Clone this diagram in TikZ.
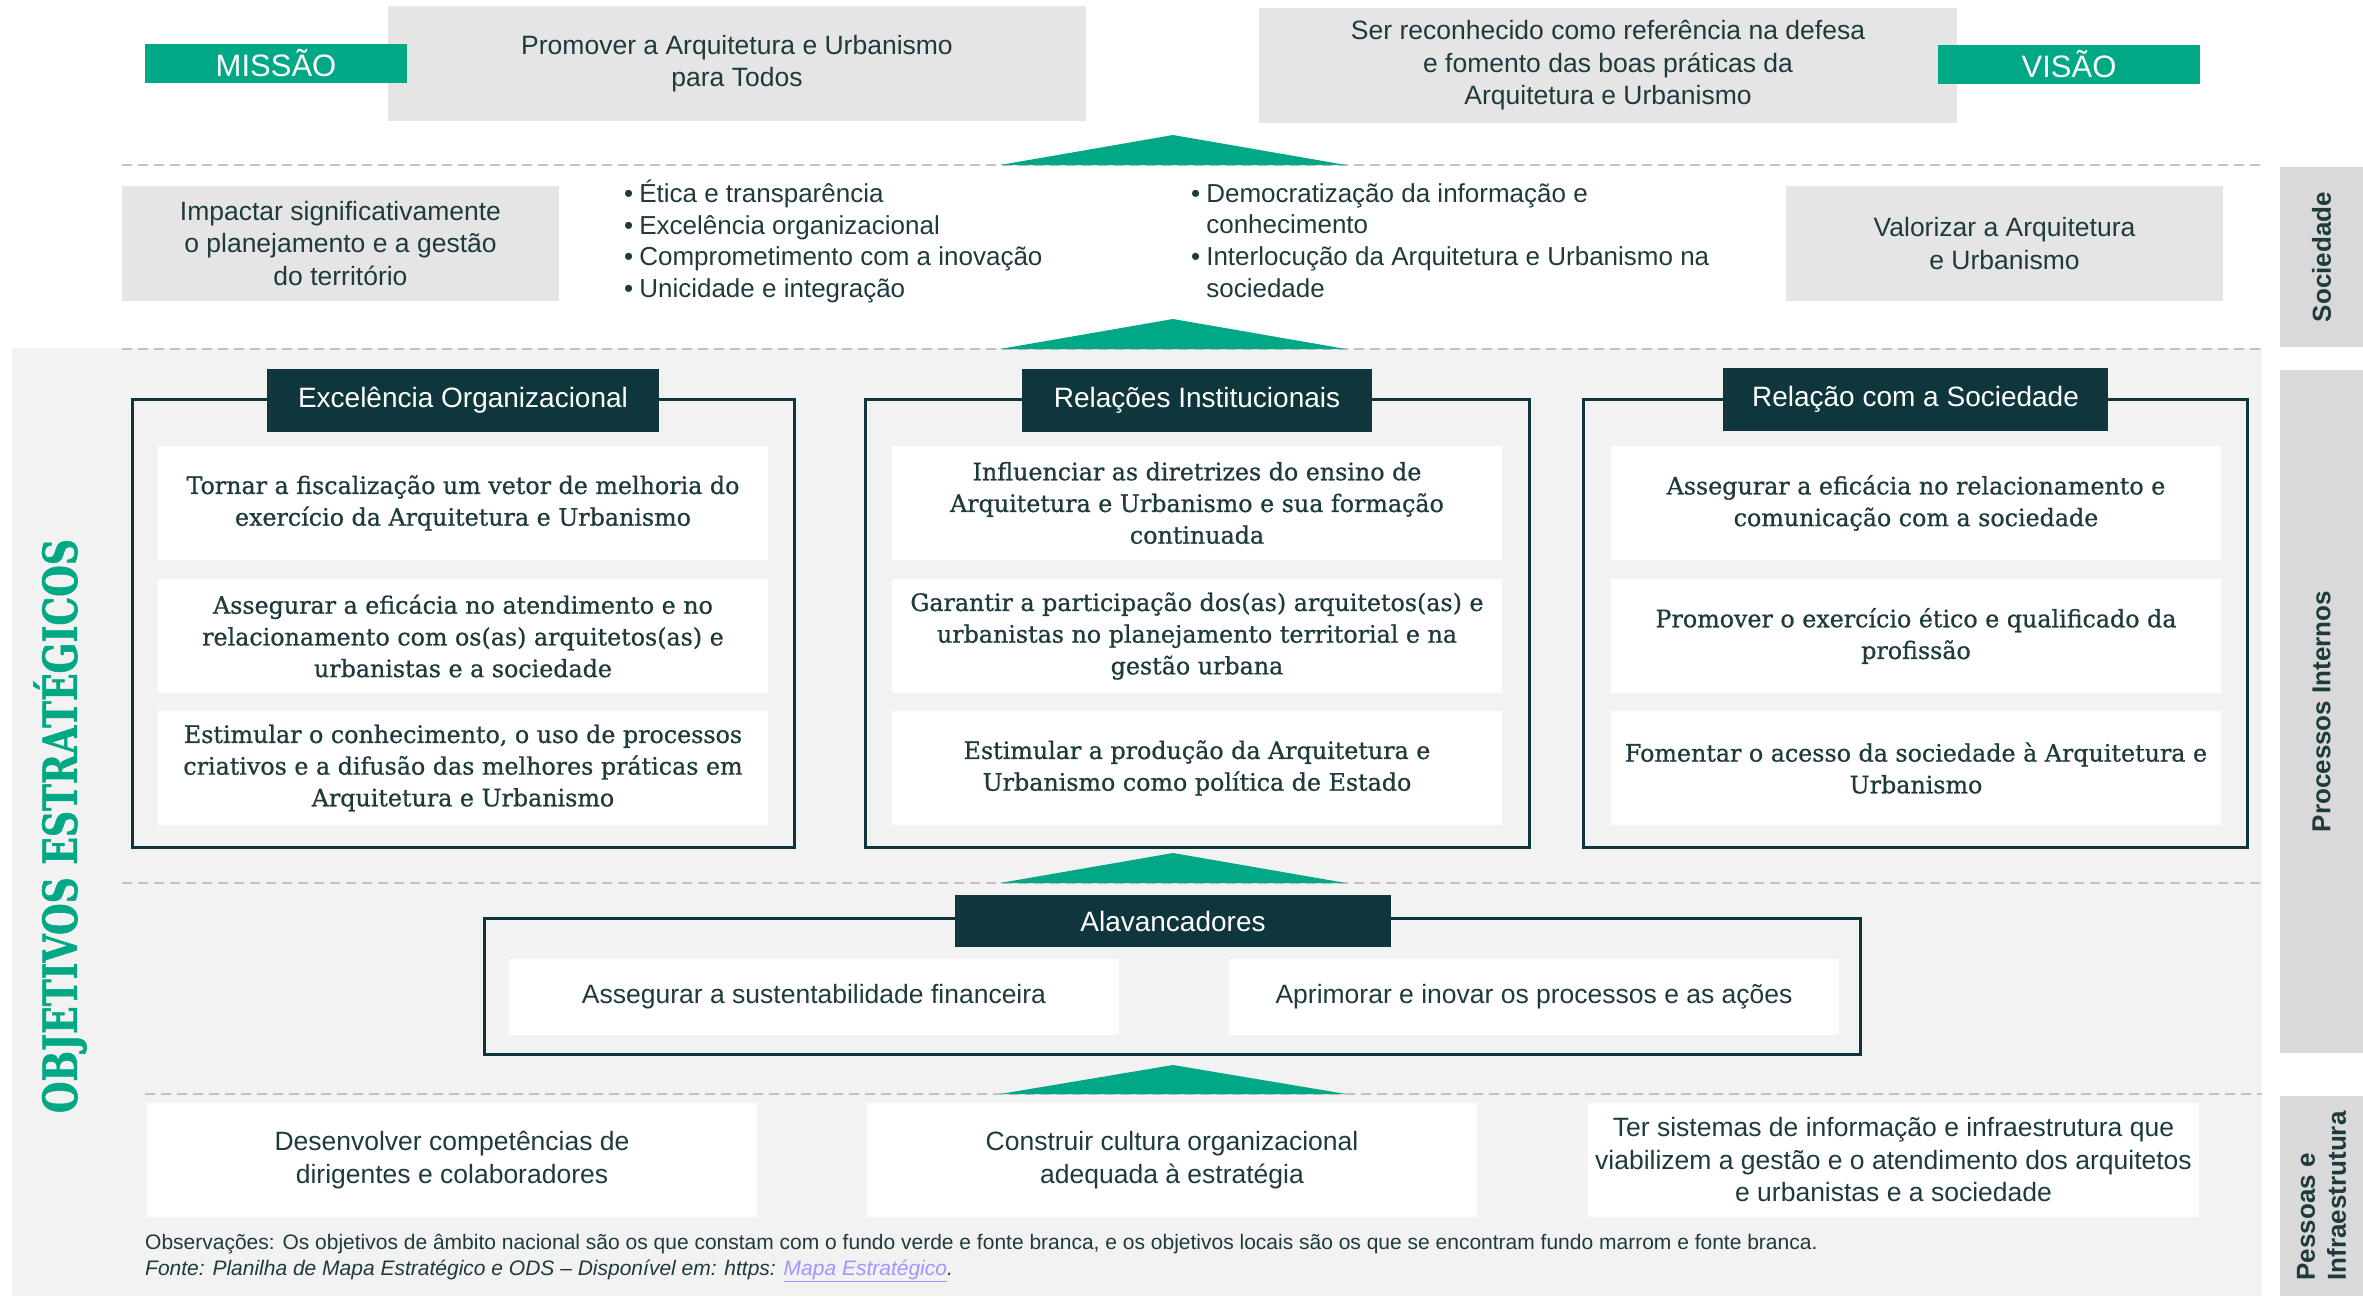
\documentclass[tikz,border=0pt]{standalone}
\usepackage{fontspec}
\setmainfont{Liberation Sans}
\newfontfamily\slabfont[FakeStretch=0.99,FakeBold=0.8]{DejaVu Serif}
\newfontfamily\objfont[FakeStretch=0.77,FakeBold=1.2]{DejaVu Serif}
\definecolor{mgreen}{HTML}{00A886}
\definecolor{mdark}{HTML}{0E363C}
\definecolor{txt}{HTML}{1E3A3D}
\definecolor{boxgray}{HTML}{E5E5E5}
\definecolor{sidegray}{HTML}{D9D9D9}
\definecolor{bgc}{HTML}{F2F2F2}
\definecolor{dashc}{HTML}{C2C2C2}
\definecolor{linkc}{HTML}{A096FF}
\tikzset{
  graybox/.style={fill=boxgray, text=txt, align=center, inner sep=0pt,
    font=\fontsize{26.5}{32.5}\selectfont},
  whitebox/.style={fill=white, text=txt, align=center, inner sep=0pt,
    font=\fontsize{26.5}{32.5}\selectfont},
  slabbox/.style={fill=white, text=txt, align=center, inner sep=0pt,
    minimum width=610pt, minimum height=114pt,
    font=\slabfont\fontsize{24}{31.7}\selectfont},
  greenlabel/.style={fill=mgreen, text=white, inner sep=0pt,
    minimum width=262pt, minimum height=39pt, font=\fontsize{31}{31}\selectfont},
  titlebox/.style={fill=mdark, text=white, inner sep=0pt,
    minimum height=63pt, font=\fontsize{28}{28}\selectfont},
  frame/.style={draw=mdark, line width=3pt},
  dashline/.style={draw=dashc, line width=2.5pt, dash pattern=on 10pt off 6pt},
  tri/.style={fill=mgreen},
  sidebox/.style={fill=sidegray, text=txt, inner sep=0pt, minimum height=84pt,
    font=\bfseries\fontsize{26}{31}\selectfont},
  bulletlist/.style={text=txt, inner sep=0pt, font=\fontsize{26}{31.7}\selectfont},
  note/.style={text=txt, inner sep=0pt, font=\fontsize{21}{26}\selectfont}
}
\begin{document}
\begin{tikzpicture}[x=1pt,y=-1pt]
\useasboundingbox (0,0) rectangle (2363,1296);
% background region
\fill[bgc] (12,348) rectangle (2262,1296);

% ---- Mission / Vision
\node[graybox, minimum width=698pt, minimum height=115pt] (mis) at (737,63.5)
  {Promover a Arquitetura e Urbanismo\\para Todos};
\node[greenlabel] (mislbl) at (276,63.5) {MISSÃO};
\node[graybox, minimum width=698pt, minimum height=115pt] (vis) at (1608,65.5)
  {Ser reconhecido como referência na defesa\\e fomento das boas práticas da\\Arquitetura e Urbanismo};
\node[greenlabel] (vislbl) at (2069,64.5) {VISÃO};

% ---- separators and triangles
\draw[dashline] (122,165) -- (2262,165);
\fill[tri] (1000,165) -- (1173,135) -- (1346,165) -- cycle;
\draw[dashline] (122,349) -- (2262,349);
\fill[tri] (1000,349) -- (1173,319) -- (1346,349) -- cycle;
\draw[dashline] (122,883) -- (2262,883);
\fill[tri] (1000,883) -- (1173,853) -- (1346,883) -- cycle;
\draw[dashline] (145,1094) -- (2262,1094);
\fill[tri] (1000,1094) -- (1173,1065) -- (1346,1094) -- cycle;

% ---- Sociedade row
\node[graybox, minimum width=437pt, minimum height=115pt] (imp) at (340.5,243.5)
  {Impactar significativamente\\o planejamento e a gestão\\do território};
\node[graybox, minimum width=437pt, minimum height=115pt] (valor) at (2004.5,243.5)
  {Valorizar a Arquitetura\\e Urbanismo};
\node[bulletlist, anchor=west] (vals1) at (624,243.5)
  {\begin{tabular}{@{}l@{\hspace{6pt}}l@{}}
  •&Ética e transparência\\
  •&Excelência organizacional\\
  •&Comprometimento com a inovação\\
  •&Unicidade e integração
  \end{tabular}};
\node[bulletlist, anchor=west] (vals2) at (1191,243.5)
  {\begin{tabular}{@{}l@{\hspace{6pt}}l@{}}
  •&Democratização da informação e\\
  &conhecimento\\
  •&Interlocução da Arquitetura e Urbanismo na\\
  &sociedade
  \end{tabular}};

% ---- side labels
\node[sidebox, rotate=90, minimum width=180pt] (soc) at (2321.5,257) {Sociedade};
\node[sidebox, rotate=90, minimum width=683pt] (proc) at (2321.5,711.5) {Processos Internos};
\node[sidebox, rotate=90, minimum width=200pt, align=left] (pess) at (2321.5,1196)
  {Pessoas e\\Infraestrutura};

% ---- vertical title
\node[rotate=90, text=mgreen, inner sep=0pt,
  font=\objfont\bfseries\fontsize{47}{47}\selectfont] (obj) at (60,826)
  {OBJETIVOS ESTRATÉGICOS};

% ---- Excelência Organizacional
\draw[frame] (132,399) rectangle (794,847);
\node[titlebox, minimum width=392pt] (exct) at (463,400.5) {Excelência Organizacional};
\node[slabbox] (exc1) at (463,503)
  {Tornar a fiscalização um vetor de melhoria do\\exercício da Arquitetura e Urbanismo};
\node[slabbox] (exc2) at (463,636)
  {Assegurar a eficácia no atendimento e no\\relacionamento com os(as) arquitetos(as) e\\urbanistas e a sociedade};
\node[slabbox] (exc3) at (463,768)
  {Estimular o conhecimento, o uso de processos\\criativos e a difusão das melhores práticas em\\Arquitetura e Urbanismo};

% ---- Relações Institucionais
\draw[frame] (865,399) rectangle (1529,847);
\node[titlebox, minimum width=350pt] (relt) at (1197,400.5) {Relações Institucionais};
\node[slabbox] (rel1) at (1197,503)
  {Influenciar as diretrizes do ensino de\\Arquitetura e Urbanismo e sua formação\\continuada};
\node[slabbox] (rel2) at (1197,636)
  {Garantir a participação dos(as) arquitetos(as) e\\urbanistas no planejamento territorial e na\\gestão urbana};
\node[slabbox] (rel3) at (1197,768)
  {Estimular a produção da Arquitetura e\\Urbanismo como política de Estado};

% ---- Relação com a Sociedade
\draw[frame] (1583,399) rectangle (2247,847);
\node[titlebox, minimum width=385pt] (sct) at (1915.5,399.5) {Relação com a Sociedade};
\node[slabbox] (sc1) at (1916,503)
  {Assegurar a eficácia no relacionamento e\\comunicação com a sociedade};
\node[slabbox] (sc2) at (1916,636)
  {Promover o exercício ético e qualificado da\\profissão};
\node[slabbox] (sc3) at (1916,768)
  {Fomentar o acesso da sociedade à Arquitetura e\\Urbanismo};

% ---- Alavancadores
\draw[frame] (484,918) rectangle (1860,1054);
\node[titlebox, minimum width=436pt, minimum height=52pt] (alt) at (1173,921) {Alavancadores};
\node[whitebox, minimum width=610pt, minimum height=76pt] (al1) at (814,997)
  {Assegurar a sustentabilidade financeira};
\node[whitebox, minimum width=610pt, minimum height=76pt] (al2) at (1534,997)
  {Aprimorar e inovar os processos e as ações};

% ---- Pessoas e Infraestrutura
\node[whitebox, minimum width=610pt, minimum height=114pt] (pi1) at (452,1160)
  {Desenvolver competências de\\dirigentes e colaboradores};
\node[whitebox, minimum width=610pt, minimum height=114pt] (pi2) at (1172,1160)
  {Construir cultura organizacional\\adequada à estratégia};
\node[whitebox, minimum width=611pt, minimum height=114pt] (pi3) at (1893.5,1160)
  {Ter sistemas de informação e infraestrutura que\\viabilizem a gestão e o atendimento dos arquitetos\\e urbanistas e a sociedade};

% ---- notes
\node[note, anchor=base west] (obs) at (145,1249)
  {Observações: Os objetivos de âmbito nacional são os que constam com o fundo verde e fonte branca, e os objetivos locais são os que se encontram fundo marrom e fonte branca.};
\node[note, anchor=base west] (fonte) at (145,1275)
  {\itshape Fonte: Planilha de Mapa Estratégico e ODS – Disponível em: https: \textcolor{linkc}{\underline{Mapa Estratégico}}\textcolor{txt}{.}};
\end{tikzpicture}
\end{document}
